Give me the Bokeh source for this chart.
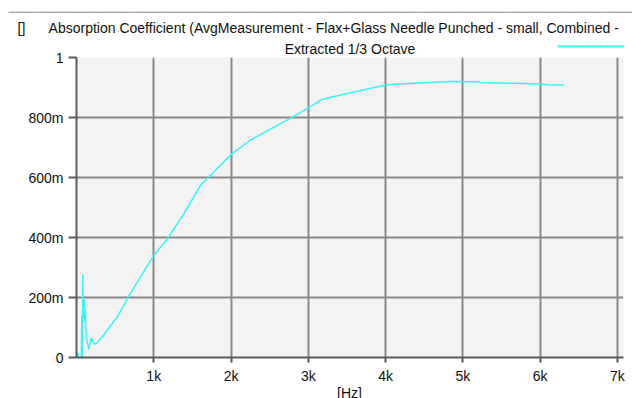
from bokeh.plotting import figure
from bokeh.models import FixedTicker, Label, Range1d, Title
from bokeh.embed import file_html
from bokeh.resources import INLINE

# Data (frequency in Hz, absorption coefficient)
freq_hz = [5, 23, 28, 60, 69, 74, 82, 86, 92, 98, 103, 108, 115, 122, 135, 145, 160,
           190, 225, 262, 300, 336, 435, 531, 660, 800, 1004, 1178, 1392, 1608, 1803,
           2006, 2255, 2773, 3002, 3183, 3420, 4002, 4174, 4498, 4843, 5210, 5232,
           5663, 6008, 6095, 6310]
alpha = [-0.05, 0.015, -0.05, -0.05, 0.138, -0.05, 0.277, 0.15, 0.17, 0.13, 0.193, 0.12,
         0.16, 0.09, 0.06, 0.045, 0.027, 0.065, 0.045, 0.048, 0.06, 0.069, 0.104, 0.136,
         0.197, 0.256, 0.342, 0.396, 0.48, 0.575, 0.625, 0.678, 0.725, 0.798, 0.832,
         0.861, 0.875, 0.908, 0.912, 0.916, 0.92, 0.919, 0.916, 0.914, 0.912, 0.909, 0.908]

x_ticks = [1000, 2000, 3000, 4000, 5000, 6000, 7000]
x_tick_labels = ["1k", "2k", "3k", "4k", "5k", "6k", "7k"]
y_ticks = [0, 0.2, 0.4, 0.6, 0.8, 1]
y_tick_labels = ["0", "200m", "400m", "600m", "800m", "1"]

series_name = "Absorption Coefficient (AvgMeasurement - Flax+Glass Needle Punched - small, Combined -"
series_sub = "Extracted 1/3 Octave"
x_unit = "[Hz]"

FONT = "Liberation Sans"
CYAN = "#38f4f4"
NB = "\u00a0"
BLOCK = "\u2588"
TOP_EIGHTH = "\u2594"

p = figure(width=632, height=398, output_backend="svg", toolbar_location=None,
           x_range=Range1d(0, 7080), y_range=Range1d(0, 1.0),
           min_border_left=76, min_border_right=9, min_border_top=57, min_border_bottom=41)
p.background_fill_color = "#f3f3f3"
p.border_fill_color = "white"
p.outline_line_color = None

r = p.line(freq_hz, alpha, line_color=CYAN, line_width=1.5)

for ax in (p.xaxis[0], p.yaxis[0]):
    ax.axis_line_color = "#5a5a5a"
    ax.axis_line_width = 2
    ax.major_tick_line_color = "#5a5a5a"
    ax.major_tick_line_width = 2
    ax.major_tick_in = 0
    ax.minor_tick_line_color = None
    ax.major_label_text_font = FONT
    ax.major_label_text_font_size = "14px"
    ax.major_label_text_color = "#111111"

p.xaxis.ticker = FixedTicker(ticks=x_ticks)
p.xaxis.major_label_overrides = dict(zip(x_ticks, x_tick_labels))
p.xaxis.major_tick_out = 5
p.xaxis.major_label_standoff = 5

p.yaxis.ticker = FixedTicker(ticks=y_ticks)
p.yaxis.major_label_overrides = dict(zip(y_ticks, y_tick_labels))
p.yaxis.major_tick_out = 8
p.yaxis.major_label_standoff = 5

p.xgrid.ticker = FixedTicker(ticks=x_ticks)
p.ygrid.ticker = FixedTicker(ticks=y_ticks[1:-1])
for g in (p.xgrid[0], p.ygrid[0]):
    g.grid_line_color = "#888888"
    g.grid_line_width = 2

# header rows: subtitle nearest the frame, then the series name
p.add_layout(Title(text=series_sub, align="center", text_font=FONT, text_font_size="14px",
                   text_font_style="normal", text_color="#111111", standoff=2), "above")
p.add_layout(Title(text="[]" + NB * 6 + series_name, align="left", offset=-59,
                   text_font=FONT, text_font_size="14px", text_font_style="normal",
                   text_color="#111111", standoff=3), "above")
# legend swatch (a run of block characters in the series colour)
p.add_layout(Label(x=481, y=-29.5, x_units="screen", y_units="screen",
                   text=BLOCK * 55, text_font="DejaVu Sans Mono", text_font_size="2px",
                   text_color=CYAN, text_baseline="middle"), "above")
# thin grey rule across the top of the control
p.add_layout(Label(x=-68, y=2.7, x_units="screen", y_units="screen",
                   text=TOP_EIGHTH * 130, text_font="DejaVu Sans Mono", text_font_size="8px",
                   text_color="#a4a4a4", text_baseline="top"), "above")
# x unit label, drawn from the (roomy) left border panel
p.add_layout(Label(x=349, y=-35, x_units="screen", y_units="screen", text=x_unit,
                   text_font=FONT, text_font_size="14px", text_color="#111111",
                   text_align="center", text_baseline="middle"), "left")

open("out.html", "w").write(file_html(p, INLINE))
